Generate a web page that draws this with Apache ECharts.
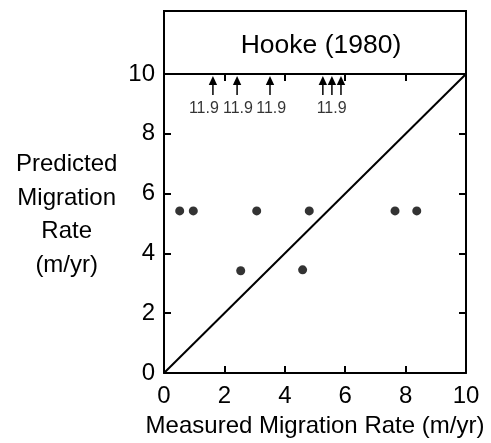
<!DOCTYPE html>
<html>
<head>
<meta charset="utf-8">
<script src="https://cdn.jsdelivr.net/npm/echarts@6/dist/echarts.min.js"></script>
<style>html,body{margin:0;padding:0;background:#fff;}#c{width:491px;height:443px;}</style>
</head>
<body>
<div id="c"></div>
<script>
// Data
var titleText = 'Hooke (1980)';
var xAxisName = 'Measured Migration Rate (m/yr)';
var yAxisNameLines = ['Predicted', 'Migration', 'Rate', '(m/yr)'];
var measured = [0.52, 0.97, 3.07, 4.81, 7.65, 8.37, 2.54, 4.59];
var predicted = [5.42, 5.42, 5.42, 5.42, 5.42, 5.42, 3.42, 3.45];
var oneToOneX = [0, 10];
var oneToOneY = [0, 10];
// off-scale points (predicted 11.9) shown as arrows
var arrowX = [1.62, 2.42, 3.51, 5.26, 5.56, 5.86];
var arrowBase = 9.3;
var arrowTip = 9.93;
var offLabelX = [1.32, 2.45, 3.55, 5.55];
var offLabelY = 8.85;
var offLabelText = '11.9';

var FONT = 'Liberation Sans, Arial, sans-serif';
var chart = echarts.init(document.getElementById('c'), null, {renderer: 'canvas'});

function axLine() { return {show: true, onZero: false, lineStyle: {color: '#000', width: 2}}; }
function ticks() { return {show: true, inside: true, length: 7, lineStyle: {color: '#000', width: 2}}; }

var option = {
  backgroundColor: '#fff',
  animation: false,
  title: {
    text: titleText, left: 316, top: 27, textAlign: 'center',
    textStyle: {fontFamily: FONT, fontSize: 26.5, fontWeight: 'normal', color: '#000'}
  },
  graphic: [{
    type: 'text', left: 16, top: 148,
    style: {
      text: yAxisNameLines.join('\n'), fill: '#000', font: '24px ' + FONT,
      align: 'center', lineHeight: 33.5, textAlign: 'center'
    }
  }],
  grid: [
    {left: 164, right: 25, top: 74, bottom: 69, show: false},
    {left: 164, right: 25, top: 11, height: 63, show: true, borderColor: '#000', borderWidth: 2, backgroundColor: 'transparent'}
  ],
  xAxis: [
    {
      gridIndex: 0, type: 'value', min: 0, max: 10, interval: 2, position: 'bottom',
      axisLine: axLine(), axisTick: ticks(), splitLine: {show: false},
      axisLabel: {fontFamily: FONT, fontSize: 24, color: '#000', margin: 11},
      name: xAxisName, nameLocation: 'middle', nameGap: 41,
      nameTextStyle: {fontFamily: FONT, fontSize: 24, color: '#000'}
    },
    {
      gridIndex: 0, type: 'value', min: 0, max: 10, interval: 2, position: 'top',
      axisLine: axLine(), axisTick: ticks(), splitLine: {show: false}, axisLabel: {show: false}
    },
    {gridIndex: 1, type: 'value', min: 0, max: 10, show: false}
  ],
  yAxis: [
    {
      gridIndex: 0, type: 'value', min: 0, max: 10, interval: 2, position: 'left',
      axisLine: axLine(), axisTick: ticks(), splitLine: {show: false},
      axisLabel: {fontFamily: FONT, fontSize: 24, color: '#000', margin: 9}
    },
    {
      gridIndex: 0, type: 'value', min: 0, max: 10, interval: 2, position: 'right',
      axisLine: axLine(), axisTick: ticks(), splitLine: {show: false}, axisLabel: {show: false}
    },
    {gridIndex: 1, type: 'value', min: 0, max: 1, show: false}
  ],
  series: [
    {
      type: 'line', xAxisIndex: 0, yAxisIndex: 0, symbol: 'none',
      data: oneToOneX.map(function (x, i) { return [x, oneToOneY[i]]; }),
      lineStyle: {color: '#000', width: 2}, z: 2
    },
    {
      type: 'scatter', xAxisIndex: 0, yAxisIndex: 0, symbol: 'circle', symbolSize: 9,
      itemStyle: {color: '#000'},
      data: measured.map(function (x, i) { return [x, predicted[i]]; }), z: 3
    },
    {
      type: 'custom', xAxisIndex: 0, yAxisIndex: 0, z: 3,
      data: arrowX.map(function (x) { return [x, arrowBase, arrowTip]; }),
      renderItem: function (params, api) {
        var b = api.coord([api.value(0), api.value(1)]);
        var t = api.coord([api.value(0), api.value(2)]);
        var hh = 9, hw = 4.2;
        return {
          type: 'group',
          children: [
            {type: 'line', shape: {x1: b[0], y1: b[1], x2: t[0], y2: t[1] + hh - 1}, style: {stroke: '#000', lineWidth: 1.5}},
            {type: 'polygon', shape: {points: [[t[0], t[1]], [t[0] - hw, t[1] + hh], [t[0] + hw, t[1] + hh]]}, style: {fill: '#000'}}
          ]
        };
      }
    },
    {
      type: 'scatter', xAxisIndex: 0, yAxisIndex: 0, symbolSize: 0,
      data: offLabelX.map(function (x) { return [x, offLabelY]; }),
      label: {show: true, position: 'inside', formatter: offLabelText, fontFamily: FONT, fontSize: 16, color: '#000'}
    }
  ]
};
chart.setOption(option);
</script>
</body>
</html>
